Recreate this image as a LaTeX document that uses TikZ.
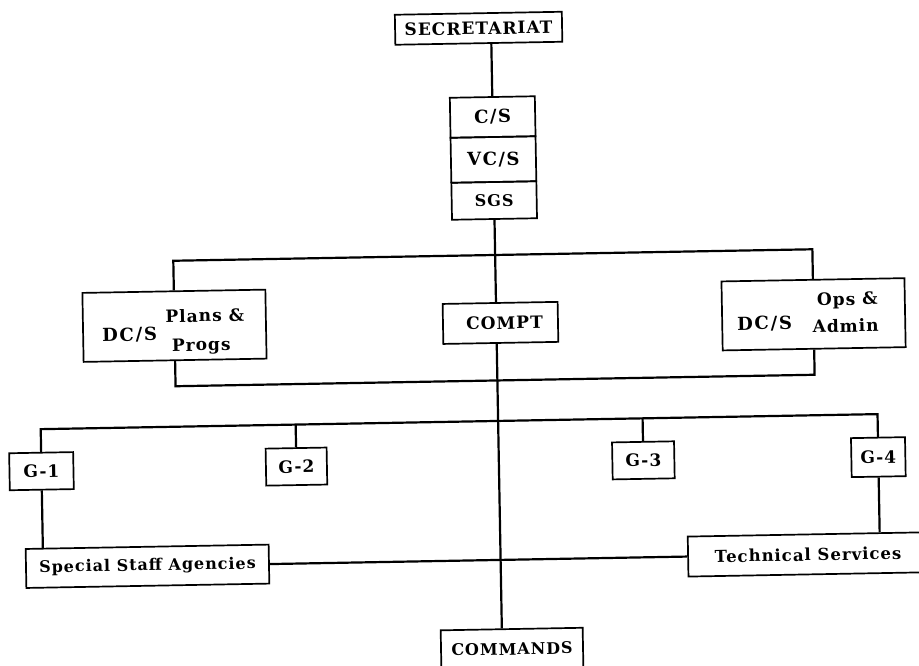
\documentclass[tikz,border=0pt]{standalone}
\usepackage{fontspec}
\newfontfamily\orgfont{DejaVu Serif}[LetterSpace=6]
\usetikzlibrary{calc}

\newcommand\labfont[2]{\orgfont\bfseries\addfontfeature{LetterSpace=#2}\fontsize{#1}{#1}\selectfont}

\begin{document}
\begin{tikzpicture}[x=1pt,y=-1pt,
  unit/.style={draw, rectangle, line width=1.7pt, inner sep=0pt, align=center,
    font=\labfont{17}{6}},
  word/.style={inner sep=0pt, anchor=base, font=\labfont{17}{6}},
  link/.style={line width=2.2pt}]
\useasboundingbox (0,0) rectangle (919,665);
\clip (0,0) rectangle (919,665);
\begin{scope}[rotate around={1.03:(495,330)}, transform shape]

% head of the chain of command
\node[unit, minimum width=167, minimum height=30] (sec) at (484,28) {SECRETARIAT};
\node[unit, minimum width=85, minimum height=40, font=\labfont{18}{8}] (cs)  at (496.5,117)   {C/S};
\node[unit, minimum width=85, minimum height=45, font=\labfont{18}{8}] (vcs) at (496.5,159.5) {VC/S};
\node[unit, minimum width=85, minimum height=37, font=\labfont{16}{6}] (sgs) at (496.5,200.5) {SGS};

% deputies and comptroller
\node[unit, minimum width=183, minimum height=69] (plans) at (174.6,320) {};
\node[word, font=\labfont{18}{10}] (plansdcs) at ($(plans)+(-45,14.5)$) {DC/S};
\node[word] (plans1) at ($(plans)+(30.5,-3.5)$) {Plans \&};
\node[word] (plans2) at ($(plans)+(26.5,25.5)$) {Progs};

\node[unit, minimum width=115, minimum height=40] (compt) at (500.6,323) {\hspace{8pt}COMPT};

\node[unit, minimum width=183, minimum height=69] (ops) at (813.8,320) {};
\node[word, font=\labfont{18}{10}] (opsdcs) at ($(ops)+(-49,14.5)$) {DC/S};
\node[word] (ops1) at ($(ops)+(34,-8.5)$) {Ops \&};
\node[word] (ops2) at ($(ops)+(32,18.5)$) {Admin};

% general staff
\node[unit, minimum width=64, minimum height=37] (g1) at (39,463)  {G-1};
\node[unit, minimum width=61, minimum height=37] (g2) at (294,463) {G-2};
\node[unit, minimum width=62, minimum height=37] (g3) at (641,463) {G-3};
\node[unit, minimum width=54, minimum height=39] (g4) at (876,464) {G-4};

% agencies, services and commands
\node[unit, minimum width=243, minimum height=39, font=\labfont{16}{6}] (ssa) at (143.3,560) {Special Staff Agencies};
\node[unit, minimum width=280, minimum height=40] (tech) at (824,560) {};
\node[word, font=\labfont{16.5}{6}] (techtext) at ($(tech)+(-20,6.5)$) {Technical Services};
\node[unit, minimum width=142, minimum height=40, font=\labfont{16}{6}] (cmd) at (506.3,649.3) {COMMANDS};

% buses
\coordinate (bus1) at (496.5,255);
\coordinate (bus2) at (496.5,380.5);
\coordinate (bus3) at (496.5,421);

% connectors
\draw[link] (cs.north) -- (cs.north |- sec.south);
\draw[link] (sgs.south) -- (sgs.south |- compt.north);
\draw[link] (sgs.south |- compt.south) -- (sgs.south |- cmd.north);

\draw[link] (plans.north) -- (plans.north |- bus1) -- (ops.north |- bus1) -- (ops.north);
\draw[link] (plans.south) -- (plans.south |- bus2) -- (ops.south |- bus2) -- (ops.south);

\draw[link] (g1.north) -- (g1.north |- bus3) -- (g4.north |- bus3) -- (g4.north);
\draw[link] (g2.north) -- (g2.north |- bus3);
\draw[link] (g3.north) -- (g3.north |- bus3);

\draw[link] (g1.south) -- (g1.south |- ssa.north);
\draw[link] (g4.south) -- (g4.south |- tech.north);
\draw[link] (ssa.east) -- (tech.west);

\end{scope}
\end{tikzpicture}
\end{document}
